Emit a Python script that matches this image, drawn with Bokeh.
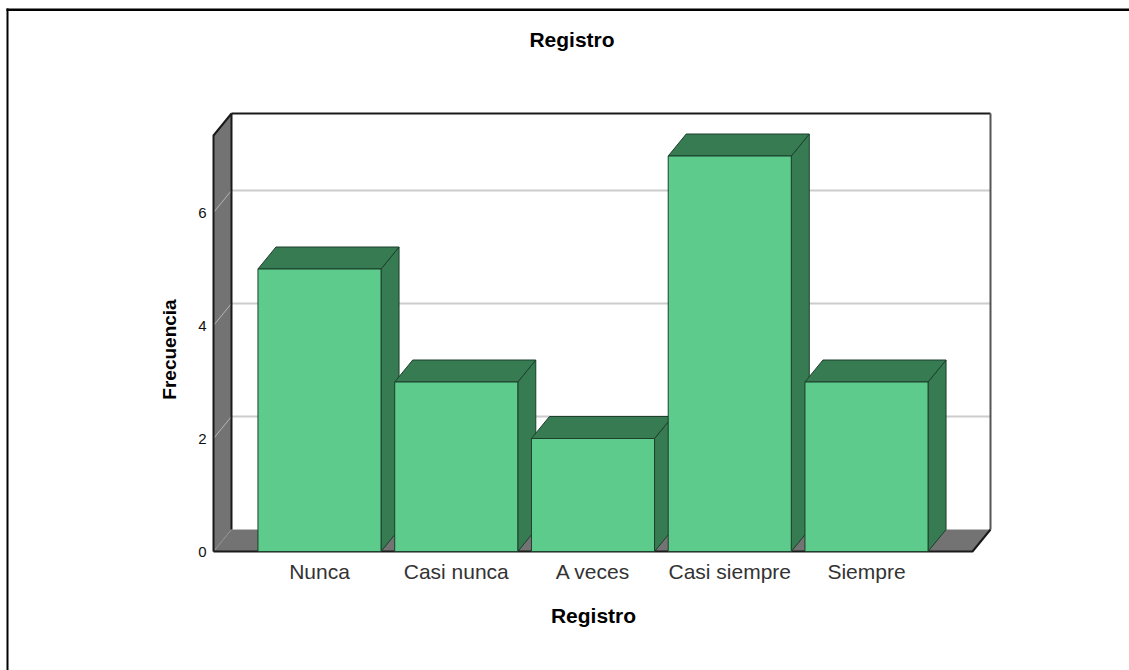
from bokeh.plotting import figure
from bokeh.models import Range1d, FixedTicker, Label
from bokeh.embed import file_html
from bokeh.resources import INLINE

categories = ["Nunca", "Casi nunca", "A veces", "Casi siempre", "Siempre"]
values = [5, 3, 2, 7, 3]
y_ticks = [0, 2, 4, 6]
grid_values = [2, 4, 6]

FONT = "Liberation Sans"
FRONT = "#5ccb8b"
DARK = "#377b53"
EDGE = "#1d3f2b"
WALL = "#737373"
GRID = "#cccccc"

# scale of the chart: pixels per unit
PX_X, PX_Y = 136.75, 56.5
X0_PAGE, Y0_PAGE = 319.0, 551.0


def dx(px):
    return (px - X0_PAGE) / PX_X


def dy(py):
    return (Y0_PAGE - py) / PX_Y


depth_x, depth_y = 18 / PX_X, 22 / PX_Y
bar_w = 0.9
x_lo, x_hi = dx(213), dx(972)
y_top = dy(135)

p = figure(width=1129, height=670, output_backend="svg", toolbar_location=None,
           x_range=Range1d(dx(0), dx(1129)), y_range=Range1d(dy(670), dy(0)),
           min_border=0, tools="")
p.outline_line_color = None
p.grid.visible = False
p.background_fill_color = "white"

# black frame of the picture, top and left
p.quad(left=[dx(6), dx(6)], right=[dx(1129), dx(8)], top=[dy(8), dy(8)], bottom=[dy(10.5), dy(670)],
       fill_color="black", line_color=None)

# box: back wall, left wall, floor
p.segment([x_lo + depth_x] * len(grid_values), [v + depth_y for v in grid_values],
          [x_hi + depth_x] * len(grid_values), [v + depth_y for v in grid_values],
          line_color=GRID, line_width=2)
p.patch([x_lo, x_lo + depth_x, x_lo + depth_x, x_lo],
        [y_top, y_top + depth_y, depth_y, 0],
        fill_color=WALL, line_color=None)
p.patch([x_lo, x_lo + depth_x, x_hi + depth_x, x_hi],
        [0, depth_y, depth_y, 0],
        fill_color=WALL, line_color=None)
p.segment([x_lo] * len(grid_values), grid_values,
          [x_lo + depth_x] * len(grid_values), [v + depth_y for v in grid_values],
          line_color="#b5b5b5", line_width=1)
p.line([x_lo, x_lo + depth_x], [0, depth_y], line_color="#8f8f8f", line_width=1)
p.line([x_lo + depth_x, x_hi + depth_x], [depth_y, depth_y], line_color="#bdbdbd", line_width=1)
p.line([x_lo + depth_x, x_lo + depth_x], [depth_y, y_top + depth_y], line_color="#1a1a1a", line_width=2)
p.line([x_lo + depth_x, x_hi + depth_x], [y_top + depth_y, y_top + depth_y], line_color="#1a1a1a", line_width=2)
p.line([x_hi + depth_x, x_hi + depth_x], [depth_y, y_top + depth_y], line_color="#555555", line_width=2)
p.line([x_lo, x_lo, x_lo + depth_x], [0, y_top, y_top + depth_y], line_color="#1a1a1a", line_width=2)
p.line([x_lo, x_hi, x_hi + depth_x], [0, 0, depth_y], line_color="#1a1a1a", line_width=2)

# bars: side and top faces first, then fronts
for i, v in enumerate(values):
    l, r = i - bar_w / 2, i + bar_w / 2
    p.patch([r, r + depth_x, r + depth_x, r], [0, depth_y, v + depth_y, v],
            fill_color=DARK, line_color=EDGE, line_width=1)
    p.patch([l, l + depth_x, r + depth_x, r], [v, v + depth_y, v + depth_y, v],
            fill_color=DARK, line_color=EDGE, line_width=1)
p.vbar(x=list(range(len(values))), top=values, bottom=0, width=bar_w,
       fill_color=FRONT, line_color=EDGE, line_width=1)

# axes, held at the box's front edges
p.yaxis.fixed_location = dx(212)
p.yaxis.ticker = FixedTicker(ticks=y_ticks)
p.yaxis.axis_line_color = None
p.yaxis.major_tick_line_color = None
p.yaxis.minor_tick_line_color = None
p.yaxis.major_label_standoff = 0
p.yaxis.major_label_text_font = FONT
p.yaxis.major_label_text_font_size = "15px"
p.yaxis.major_label_text_color = "#111111"

p.xaxis.fixed_location = dy(548)
p.xaxis.ticker = FixedTicker(ticks=list(range(len(categories))))
p.xaxis.major_label_overrides = {i: c for i, c in enumerate(categories)}
p.xaxis.axis_line_color = None
p.xaxis.major_tick_line_color = None
p.xaxis.minor_tick_line_color = None
p.xaxis.major_label_standoff = 5
p.xaxis.major_label_text_font = FONT
p.xaxis.major_label_text_font_size = "21px"
p.xaxis.major_label_text_color = "#333333"

# chart title and axis titles at the reference's positions
p.add_layout(Label(x=dx(571.5), y=dy(39), text="Registro", text_font=FONT, text_font_style="bold",
                   text_font_size="21px", text_align="center", text_baseline="middle",
                   text_color="black"))
p.add_layout(Label(x=dx(593), y=dy(615), text="Registro", text_font=FONT, text_font_style="bold",
                   text_font_size="21px", text_align="center", text_baseline="middle",
                   text_color="black"))
p.add_layout(Label(x=dx(168.5), y=dy(349), text="Frecuencia", angle=90, angle_units="deg", text_font=FONT,
                   text_font_style="bold", text_font_size="19px", text_align="center",
                   text_baseline="middle", text_color="black"))

open("out.html", "w").write(file_html(p, INLINE))
